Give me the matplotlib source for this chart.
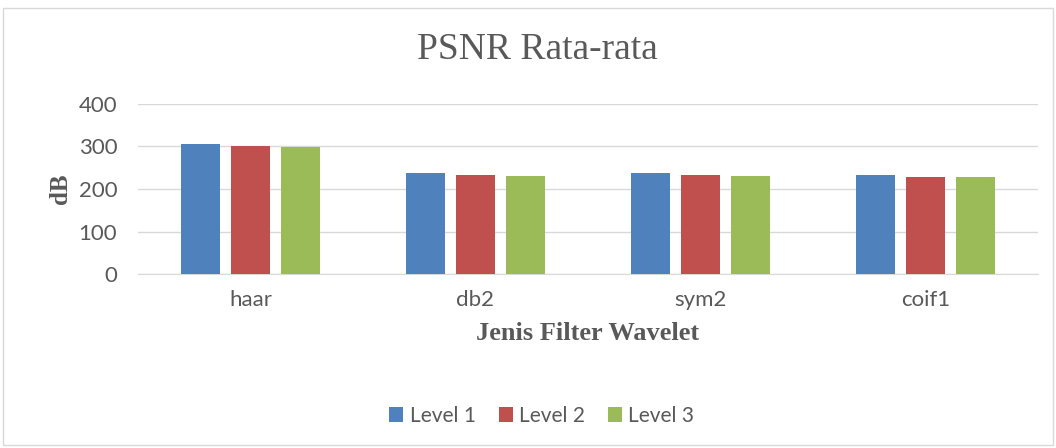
import numpy as np
import matplotlib.pyplot as plt
from matplotlib.patches import Rectangle

filters = ["haar", "db2", "sym2", "coif1"]
level1 = [305.6, 237.6, 237.6, 232.0]
level2 = [301.6, 233.6, 233.6, 228.9]
level3 = [299.3, 231.2, 231.0, 227.3]
series_names = ["Level 1", "Level 2", "Level 3"]
colors = ["#4f81bd", "#c0504d", "#9bbb59"]

fig = plt.figure(figsize=(10.56, 4.48), dpi=100)
ax = fig.add_axes([0.1307, 0.3873, 0.852, 0.381])

# outer chart border like the office chart frame
fig.patches.append(Rectangle((0.003, 0.007), 0.994, 0.975, transform=fig.transFigure,
                             fill=False, edgecolor="#d9d9d9", linewidth=1.0))

x = np.arange(len(filters))
width = 0.173
step = 0.222
for i, (vals, name, c) in enumerate(zip([level1, level2, level3], series_names, colors)):
    ax.bar(x + (i - 1) * step, vals, width, color=c, label=name, zorder=3)

ax.set_xlim(-0.5, 3.5)
ax.set_ylim(0, 400)
ax.set_yticks([0, 100, 200, 300, 400])
ax.set_xticks(x)
ax.set_xticklabels(filters)
ax.grid(axis="y", color="#d9d9d9", linewidth=1.0, zorder=0)
for s in ["top", "right", "left"]:
    ax.spines[s].set_visible(False)
ax.spines["bottom"].set_color("#d9d9d9")
ax.tick_params(length=0, labelsize=16, labelcolor="#595959")
ax.tick_params(axis="x", pad=11)
ax.tick_params(axis="y", pad=15)
for lab in ax.get_xticklabels() + ax.get_yticklabels():
    lab.set_fontfamily("Lato")

fig.text(0.509, 0.888, "PSNR Rata-rata", ha="center", va="center",
         family="Liberation Serif", fontsize=27, color="#595959")
ax.set_ylabel("dB", family="Liberation Serif", fontweight="bold", fontsize=18,
              color="#595959", labelpad=5)
ax.set_xlabel("Jenis Filter Wavelet", family="Liberation Serif", fontweight="bold",
              fontsize=19, color="#595959", labelpad=9)

fig.legend(loc="center", bbox_to_anchor=(0.513, 0.072), ncol=3, frameon=False,
           prop={"family": "Lato", "size": 15}, labelcolor="#595959",
           handlelength=0.67, handleheight=0.67, handletextpad=0.3, columnspacing=1.1)

fig.savefig("out.png", dpi=100)
